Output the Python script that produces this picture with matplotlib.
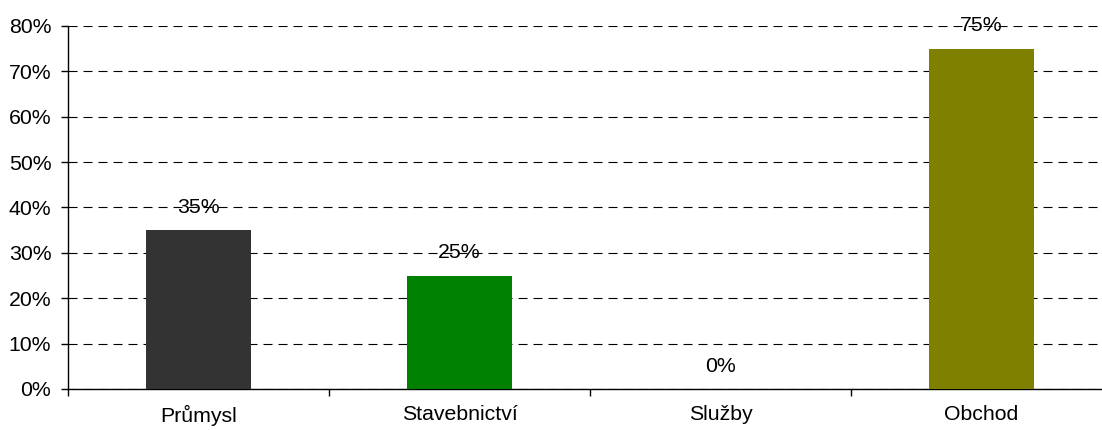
import matplotlib.pyplot as plt
from matplotlib.ticker import FixedLocator, PercentFormatter

plt.rcParams['font.family'] = ['Liberation Sans', 'DejaVu Sans']
plt.rcParams['lines.scale_dashes'] = False

categories = ['Průmysl', 'Stavebnictví', 'Služby', 'Obchod']
values = [35, 25, 0, 75]
colors = ['#333333', '#008000', '#ffffff', '#808000']
yticks = [0, 10, 20, 30, 40, 50, 60, 70, 80]

W, H = 1102, 430
FS = 15.3
fig = plt.figure(figsize=(W / 100, H / 100), dpi=100)
ax = fig.add_axes([68 / W, (H - 389) / H, 1044 / W, (389 - 26) / H])

x = list(range(len(categories)))
bars = ax.bar(x, values, width=0.40, color=colors, zorder=3)

for xi, v in zip(x, values):
    ax.annotate(f'{v}%', (xi, v), xytext=(0, 16.5), textcoords='offset points',
                ha='center', va='center', fontsize=FS, color='black', zorder=4)

ax.set_xlim(-0.5, len(categories) - 0.5)
ax.set_ylim(0, 80)
ax.set_yticks(yticks)
ax.yaxis.set_major_formatter(PercentFormatter(decimals=0))
ax.yaxis.grid(True, color='black', linestyle=(0, (6.5, 4.3)), linewidth=0.8, zorder=1)

ax.set_xticks(x)
ax.set_xticklabels(categories)
ax.xaxis.set_minor_locator(FixedLocator([i - 0.5 for i in range(len(categories) + 1)]))
ax.tick_params(axis='x', which='major', length=0, pad=11.5, labelsize=FS)
ax.tick_params(axis='x', which='minor', length=5, width=1, color='black')
ax.tick_params(axis='y', length=5, width=1, labelsize=FS, pad=7)

for s in ['top', 'right']:
    ax.spines[s].set_visible(False)
ax.spines['left'].set_linewidth(1)
ax.spines['bottom'].set_linewidth(1)

fig.savefig('out.png', dpi=100)
